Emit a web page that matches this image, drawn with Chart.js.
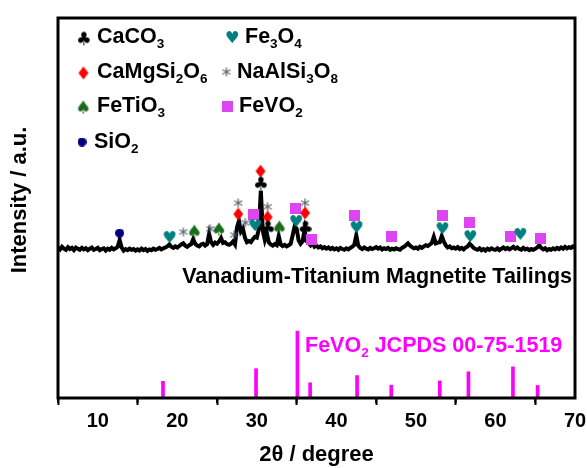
<!DOCTYPE html>
<html>
<head>
<meta charset="utf-8">
<script src="https://cdn.jsdelivr.net/npm/chart.js@4.4.1/dist/chart.umd.min.js"></script>
<style>
    html, body { margin: 0; padding: 0; background: #fff; }
    #wrap { width: 587px; height: 468px; }
</style>
</head>
<body>
<div id="wrap"><canvas id="xrdChart"></canvas></div>
<script>
const FONT = '"Liberation Sans", Arial, sans-serif';

// measured pattern, 2theta from 5 to 70 every 0.25 deg
const thetaStart = 5;
const thetaStep = 0.25;
const intensity = [
    39.6, 39.1, 39.8, 39.3, 39.0, 39.7, 39.2, 39.5, 38.9, 39.6, 39.3, 39.0, 39.5, 39.1, 39.4, 38.9, 39.3, 39.6, 39.0, 39.2,
    39.5, 38.9, 39.2, 39.4, 38.8, 39.3, 39.0, 39.5, 39.1, 39.4, 39.8, 41.6, 39.6, 38.8, 39.2, 38.9, 39.3, 39.0, 39.2, 38.8,
    39.1, 38.8, 39.3, 38.9, 39.2, 38.7, 39.1, 38.9, 39.3, 39.0, 39.2, 39.5, 39.1, 39.4, 39.6, 39.9, 40.4, 39.8, 39.5, 39.9,
    39.6, 40.0, 40.4, 40.7, 40.1, 39.8, 40.2, 40.5, 41.8, 40.6, 40.1, 39.9, 40.4, 40.6, 40.1, 40.5, 43.2, 41.0, 40.3, 40.9,
    40.6, 41.2, 42.1, 40.8, 41.0, 40.5, 40.3, 40.6, 41.2, 40.4, 44.8, 46.6, 43.8, 44.6, 42.2, 41.0, 41.3, 41.0, 41.8, 42.4,
    42.2, 44.5, 54.6, 44.0, 41.6, 43.4, 41.0, 40.4, 40.1, 40.5, 40.2, 42.6, 40.4, 40.0, 40.3, 39.9, 40.2, 40.6, 42.8, 45.2,
    44.6, 41.5, 40.6, 41.2, 44.2, 41.3, 40.8, 40.2, 40.9, 39.8, 40.1, 39.6, 39.9, 39.4, 39.7, 39.3, 39.6, 39.2, 39.5, 39.1,
    39.4, 39.0, 39.5, 39.2, 39.0, 39.4, 39.1, 39.5, 39.8, 40.3, 42.8, 40.1, 39.5, 39.2, 39.6, 39.3, 39.1, 39.5, 39.2, 39.4,
    39.7, 39.3, 39.6, 39.1, 39.4, 39.2, 39.5, 39.0, 39.3, 39.1, 39.4, 39.2, 39.0, 39.5, 39.8, 40.2, 40.7, 40.1, 39.7, 39.4,
    39.6, 39.3, 39.8, 39.5, 39.9, 40.2, 40.0, 40.4, 40.8, 42.4, 40.7, 40.9, 41.0, 42.6, 41.2, 40.2, 39.6, 39.9, 39.4, 39.6,
    39.3, 39.7, 39.2, 39.5, 39.1, 39.6, 39.9, 40.6, 40.1, 39.5, 39.2, 39.0, 39.4, 38.9, 39.2, 38.8, 39.3, 39.0, 39.4, 39.1,
    39.0, 39.4, 38.9, 39.3, 39.6, 39.2, 39.5, 39.1, 39.4, 39.8, 39.3, 39.6, 39.2, 39.0, 39.5, 39.1, 39.3, 38.9, 39.2, 39.0,
    39.3, 39.6, 40.2, 39.5, 39.1, 39.4, 38.9, 39.2, 39.0, 39.4, 39.1, 39.5, 39.2, 39.6, 39.3, 39.8, 39.4, 39.7, 39.5, 39.9,
    39.6
];

// FeVO2 JCPDS 00-75-1519 reference lines
const stickPos = [18.2, 29.9, 35.1, 36.7, 42.6, 46.9, 53.0, 56.6, 62.2, 65.3];
const stickHeight = [4.4, 7.7, 17.6, 4.0, 5.9, 3.4, 4.5, 6.9, 8.2, 3.3];

// phase markers (2theta, height)
const caco3X = [30.4, 31.3, 36.0];
const caco3Y = [56.6, 45.0, 45.0];
const cmsX = [27.6, 30.4, 31.3, 36.0];
const cmsY = [48.4, 59.7, 47.6, 48.7];
const fetio3X = [22.1, 25.2, 32.8];
const fetio3Y = [43.9, 44.5, 45.0];
const sio2X = [12.75];
const sio2Y = [43.4];
const fe3o4X = [19.0, 29.75, 34.9, 42.5, 53.3, 56.8, 63.1];
const fe3o4Y = [42.4, 45.5, 46.6, 45.0, 44.7, 42.6, 43.2];
const albiteX = [20.7, 24.1, 27.1, 27.6, 28.5, 31.3, 36.0];
const albiteY = [43.7, 44.5, 42.9, 51.3, 46.1, 50.3, 51.3];
const fevo2X = [29.6, 34.8, 36.9, 42.3, 46.9, 53.4, 56.7, 61.9, 65.6];
const fevo2Y = [48.4, 50.0, 41.8, 47.9, 42.6, 47.9, 46.3, 42.6, 42.1];

const majorTicks = [10, 20, 30, 40, 50, 60, 70];
const minorTicks = [5, 15, 25, 35, 45, 55, 65];

function glyph(ch, color, h) {
    const c = document.createElement('canvas');
    let g = c.getContext('2d');
    g.font = '100px "DejaVu Sans"';
    const m = g.measureText(ch);
    const gh = m.actualBoundingBoxAscent + m.actualBoundingBoxDescent;
    const gw = m.actualBoundingBoxLeft + m.actualBoundingBoxRight;
    const s = h / gh;
    c.width = Math.ceil(gw * s) + 2;
    c.height = Math.ceil(h) + 2;
    g = c.getContext('2d');
    g.font = (100 * s) + 'px "DejaVu Sans"';
    const m2 = g.measureText(ch);
    g.fillStyle = color;
    g.fillText(ch, 1 + m2.actualBoundingBoxLeft, 1 + m2.actualBoundingBoxAscent);
    return c;
}

function boxGlyph(kind, color, size) {
    const c = document.createElement('canvas');
    c.width = size; c.height = size;
    const g = c.getContext('2d');
    g.fillStyle = color;
    if (kind === 'rect') {
        g.fillRect(0, 0, size, size);
    } else {
        g.beginPath();
        g.arc(size / 2, size / 2, size / 2, 0, Math.PI * 2);
        g.fill();
    }
    return c;
}

const icons = {
    caco3: glyph('\u2663', '#000000', 13),
    cms: glyph('\u2666', '#ff0000', 13),
    fetio3: glyph('\u2660', '#1b6b1b', 13),
    sio2: boxGlyph('circle', '#00007f', 9),
    fe3o4: glyph('\u2665', '#008080', 12),
    albite: glyph('*', '#4c5866', 9),
    fevo2: boxGlyph('rect', '#dd44f2', 11)
};

function pairs(xs, ys) {
    return xs.map((x, i) => ({ x: x, y: ys[i] }));
}

function markerSet(xs, ys, icon) {
    return {
        type: 'scatter',
        data: pairs(xs, ys),
        pointStyle: icon,
        pointRadius: 6,
        order: 0
    };
}

function drawFormula(ctx, text, x, y, size, color) {
    ctx.fillStyle = color;
    ctx.textBaseline = 'alphabetic';
    ctx.textAlign = 'left';
    let cx = x;
    for (const part of text.match(/\d+|\D+/g)) {
        if (/\d/.test(part)) {
            ctx.font = 'bold ' + (size * 0.63) + 'px ' + FONT;
            ctx.fillText(part, cx, y + size * 0.24);
        } else {
            ctx.font = 'bold ' + size + 'px ' + FONT;
            ctx.fillText(part, cx, y);
        }
        cx += ctx.measureText(part).width;
    }
    return cx;
}

const legendItems = [
    { icon: icons.caco3, label: 'CaCO3', ix: 83, iy: 38, tx: 97, ty: 43 },
    { icon: icons.cms, label: 'CaMgSi2O6', ix: 83, iy: 73, tx: 97, ty: 78 },
    { icon: icons.fetio3, label: 'FeTiO3', ix: 83, iy: 107, tx: 97, ty: 112 },
    { icon: icons.sio2, label: 'SiO2', ix: 82, iy: 142, tx: 94, ty: 148 },
    { icon: icons.fe3o4, label: 'Fe3O4', ix: 232, iy: 37, tx: 245, ty: 43 },
    { icon: icons.albite, label: 'NaAlSi3O8', ix: 226, iy: 72, tx: 237, ty: 78 },
    { icon: icons.fevo2, label: 'FeVO2', ix: 227, iy: 106, tx: 239, ty: 112 }
];

const decor = {
    id: 'decor',
    afterDraw(chart) {
        const ctx = chart.ctx;
        const a = chart.chartArea;
        const xs = chart.scales.x;
        ctx.save();

        ctx.strokeStyle = '#000';
        ctx.lineWidth = 3;
        ctx.strokeRect(a.left, a.top, a.right - a.left, a.bottom - a.top);

        ctx.lineWidth = 2;
        ctx.beginPath();
        minorTicks.forEach(v => {
            const px = xs.getPixelForValue(v);
            ctx.moveTo(px, a.bottom);
            ctx.lineTo(px, a.bottom + 5);
        });
        ctx.stroke();

        ctx.save();
        ctx.translate(20, 200);
        ctx.rotate(-Math.PI / 2);
        ctx.font = 'bold 22px ' + FONT;
        ctx.fillStyle = '#000';
        ctx.textAlign = 'center';
        ctx.textBaseline = 'middle';
        ctx.fillText('Intensity / a.u.', 0, 0);
        ctx.restore();

        legendItems.forEach(it => {
            ctx.drawImage(it.icon, it.ix - it.icon.width / 2, it.iy - it.icon.height / 2);
            drawFormula(ctx, it.label, it.tx, it.ty, 21.5, '#000');
        });

        ctx.font = 'bold 21.5px ' + FONT;
        ctx.fillStyle = '#000';
        ctx.textAlign = 'right';
        ctx.textBaseline = 'alphabetic';
        ctx.fillText('Vanadium-Titanium Magnetite Tailings', 572, 283);

        const end = drawFormula(ctx, 'FeVO2', 305, 352, 21.5, '#ff00ff');
        ctx.font = 'bold 21.5px ' + FONT;
        ctx.fillText(' JCPDS 00-75-1519', end, 352);

        ctx.restore();
    }
};

new Chart(document.getElementById('xrdChart'), {
    type: 'scatter',
    data: {
        datasets: [
            {
                type: 'line',
                data: intensity.map((v, i) => ({ x: thetaStart + i * thetaStep, y: v })),
                borderColor: '#000',
                borderWidth: 4,
                pointRadius: 0,
                tension: 0,
                fill: false,
                order: 3
            },
            {
                type: 'bar',
                data: pairs(stickPos, stickHeight),
                backgroundColor: '#ff00ff',
                barThickness: 3,
                grouped: false,
                order: 2
            },
            markerSet(caco3X, caco3Y, icons.caco3),
            markerSet(cmsX, cmsY, icons.cms),
            markerSet(fetio3X, fetio3Y, icons.fetio3),
            markerSet(sio2X, sio2Y, icons.sio2),
            markerSet(fe3o4X, fe3o4Y, icons.fe3o4),
            markerSet(albiteX, albiteY, icons.albite),
            markerSet(fevo2X, fevo2Y, icons.fevo2)
        ]
    },
    options: {
        responsive: true,
        maintainAspectRatio: false,
        animation: false,
        layout: { padding: { left: 58, top: 18, right: 12, bottom: 0 } },
        plugins: {
            legend: { display: false },
            tooltip: { enabled: false }
        },
        scales: {
            x: {
                type: 'linear',
                min: 5,
                max: 70,
                offset: false,
                afterBuildTicks: scale => {
                    scale.ticks = majorTicks.map(v => ({ value: v }));
                },
                afterFit: scale => {
                    scale.height = 70;
                    scale.paddingLeft = 0;
                    scale.paddingRight = 0;
                },
                border: { display: false },
                grid: {
                    drawOnChartArea: false,
                    drawTicks: true,
                    tickLength: 7,
                    tickWidth: 2,
                    tickColor: '#000'
                },
                ticks: {
                    color: '#000',
                    padding: 4,
                    maxRotation: 0,
                    font: { family: FONT, size: 20, weight: 'bold' }
                },
                title: {
                    display: true,
                    text: '2\u03b8 / degree',
                    color: '#000',
                    padding: { top: 0, bottom: 0 },
                    font: { family: FONT, size: 22, weight: 'bold' }
                }
            },
            y: {
                display: false,
                min: 0,
                max: 100
            }
        }
    },
    plugins: [decor]
});
</script>
</body>
</html>
